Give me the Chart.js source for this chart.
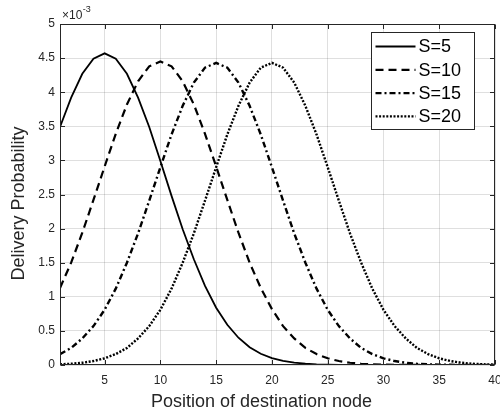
<!DOCTYPE html>
<html><head><meta charset="utf-8">
<script src="https://cdn.jsdelivr.net/npm/chart.js@4.4.0/dist/chart.umd.min.js"></script>
<style>html,body{margin:0;padding:0;background:#fff}#wrap{width:500px;height:416px;position:relative}</style>
</head><body><div id="wrap"><canvas id="c"></canvas></div>
<script>
// Position of destination node
const positions = [1,2,3,4,5,6,7,8,9,10,11,12,13,14,15,16,17,18,19,20,21,22,23,24,25,26,27,28,29,30,31,32,33,34,35,36,37,38,39,40];
// Delivery probability, in units of 10^-3
const s5  = [3.49,3.92,4.27,4.49,4.57,4.49,4.27,3.92,3.49,2.99,2.48,1.99,1.55,1.16,0.84,0.59,0.40,0.26,0.165,0.10,0.06,0.034,0.019,0.01,0.005,0.003,0.001,0.001,0,0,0,0,0,0,0,0,0,0,0,0];
const s10 = [1.13,1.50,1.94,2.42,2.91,3.39,3.82,4.16,4.38,4.45,4.38,4.16,3.82,3.39,2.91,2.42,1.94,1.50,1.13,0.82,0.57,0.39,0.25,0.16,0.098,0.058,0.033,0.018,0.01,0.005,0.003,0.001,0.001,0,0,0,0,0,0,0];
const s15 = [0.16,0.25,0.39,0.57,0.81,1.12,1.50,1.93,2.41,2.90,3.38,3.80,4.14,4.36,4.43,4.36,4.14,3.80,3.38,2.90,2.41,1.93,1.50,1.12,0.81,0.57,0.39,0.25,0.16,0.098,0.058,0.033,0.018,0.01,0.005,0.003,0.001,0.001,0,0];
const s20 = [0.01,0.018,0.033,0.058,0.098,0.16,0.25,0.39,0.57,0.81,1.12,1.50,1.93,2.41,2.90,3.38,3.80,4.14,4.36,4.43,4.36,4.14,3.80,3.38,2.90,2.41,1.93,1.50,1.12,0.81,0.57,0.39,0.25,0.16,0.098,0.058,0.033,0.018,0.01,0.005];
const seriesLabels = ['S=5','S=10','S=15','S=20'];
const xTicks = [5,10,15,20,25,30,35,40];
const yTicks = [0,0.5,1,1.5,2,2.5,3,3.5,4,4.5,5];
const yTickLabels = ['0','0.5','1','1.5','2','2.5','3','3.5','4','4.5','5'];
const xTitle = 'Position of destination node';
const yTitle = 'Delivery Probability';
const exponentBase = '\u00d710';
const exponentPow = '-3';

const FONT = "'Liberation Sans', Arial, Helvetica, sans-serif";
const INK = '#262626';

const styles = [
  {dash: [], width: 1.8},
  {dash: [8,5], width: 2.2},
  {dash: [6,3,2,3], width: 2.4},
  {dash: [2,1.6], width: 2.4}
];
const seriesValues = [s5, s10, s15, s20];

const datasets = seriesValues.map((vals, i) => ({
  label: seriesLabels[i],
  data: positions.map((p, j) => ({x: p, y: vals[j]})),
  borderColor: '#000',
  backgroundColor: '#000',
  borderWidth: styles[i].width,
  borderDash: styles[i].dash,
  pointRadius: 0,
  tension: 0,
  fill: false
}));

const decor = {
  id: 'decor',
  afterDatasetsDraw(chart) {
    const {ctx, chartArea: a, scales: {x, y}} = chart;
    ctx.save();
    ctx.strokeStyle = INK;
    ctx.lineWidth = 1;
    const L = Math.round(a.left) + 0.5, R = Math.round(a.right) - 0.5;
    const T = Math.round(a.top) + 0.5, B = Math.round(a.bottom) - 0.5;
    ctx.strokeRect(L, T, R - L, B - T);
    const tl = 4.5;
    ctx.beginPath();
    xTicks.forEach(v => {
      const px = Math.round(x.getPixelForValue(v)) + 0.5;
      ctx.moveTo(px, B); ctx.lineTo(px, B - tl);
      ctx.moveTo(px, T); ctx.lineTo(px, T + tl);
    });
    yTicks.forEach(v => {
      const py = Math.round(y.getPixelForValue(v)) + 0.5;
      ctx.moveTo(L, py); ctx.lineTo(L + tl, py);
      ctx.moveTo(R, py); ctx.lineTo(R - tl, py);
    });
    ctx.stroke();

    // exponent label
    ctx.fillStyle = INK;
    ctx.textBaseline = 'alphabetic';
    ctx.textAlign = 'left';
    ctx.font = '12px ' + FONT;
    ctx.fillText(exponentBase, a.left + 2, a.top - 5);
    const w = ctx.measureText(exponentBase).width;
    ctx.font = '9px ' + FONT;
    ctx.fillText(exponentPow, a.left + 2 + w + 0.5, a.top - 12);

    // axis titles
    ctx.font = '18px ' + FONT;
    ctx.textAlign = 'center';
    ctx.textBaseline = 'middle';
    ctx.fillText(xTitle, (a.left + a.right) / 2 - 16, a.bottom + 37);
    ctx.save();
    ctx.translate(19, (a.top + a.bottom) / 2 + 9);
    ctx.rotate(-Math.PI / 2);
    ctx.fillText(yTitle, 0, 0);
    ctx.restore();

    // legend
    const bx = Math.round(a.right - 124) + 0.5, by = Math.round(a.top + 8) + 0.5;
    const bw = 103, bh = 97;
    ctx.fillStyle = '#fff';
    ctx.fillRect(bx, by, bw, bh);
    ctx.strokeStyle = INK;
    ctx.lineWidth = 1;
    ctx.strokeRect(bx, by, bw, bh);
    chart.data.datasets.forEach((ds, i) => {
      const cy = by + 14 + i * 23.3;
      ctx.save();
      ctx.strokeStyle = ds.borderColor;
      ctx.lineWidth = ds.borderWidth;
      ctx.setLineDash(ds.borderDash);
      ctx.beginPath();
      ctx.moveTo(bx + 4, cy);
      ctx.lineTo(bx + 44, cy);
      ctx.stroke();
      ctx.restore();
      ctx.fillStyle = '#000';
      ctx.font = '18px ' + FONT;
      ctx.textAlign = 'left';
      ctx.textBaseline = 'middle';
      ctx.fillText(ds.label, bx + 47, cy + 1);
    });
    ctx.restore();
  }
};

new Chart(document.getElementById('c'), {
  type: 'line',
  data: {datasets},
  plugins: [decor],
  options: {
    responsive: true,
    maintainAspectRatio: false,
    animation: false,
    layout: {padding: {top: 24, right: 5, left: 0, bottom: 0}},
    plugins: {legend: {display: false}, tooltip: {enabled: false}},
    scales: {
      x: {
        type: 'linear',
        min: 1, max: 40,
        afterBuildTicks: s => { s.ticks = xTicks.map(v => ({value: v})); },
        afterFit: s => { s.height = 51; s.paddingLeft = 0; s.paddingRight = 0; },
        grid: {color: 'rgba(38,38,38,0.15)', drawTicks: false, lineWidth: 1},
        border: {display: false},
        ticks: {color: INK, font: {family: FONT, size: 12}, padding: 8, maxRotation: 0, autoSkip: false,
                callback: v => String(v)}
      },
      y: {
        type: 'linear',
        min: 0, max: 5,
        afterBuildTicks: s => { s.ticks = yTicks.map(v => ({value: v})); },
        afterFit: s => { s.width = 60; s.paddingTop = 0; s.paddingBottom = 0; },
        grid: {color: 'rgba(38,38,38,0.15)', drawTicks: false, lineWidth: 1},
        border: {display: false},
        ticks: {color: INK, font: {family: FONT, size: 12}, padding: 5, autoSkip: false,
                callback: (v, i) => yTickLabels[yTicks.indexOf(v)] ?? String(v)}
      }
    }
  }
});
</script>
</body></html>
